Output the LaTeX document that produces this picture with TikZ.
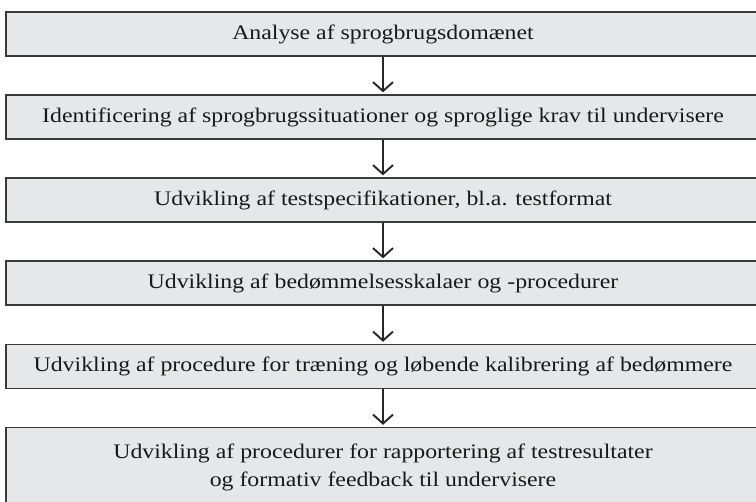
\documentclass[tikz,border=0pt]{standalone}
\usepackage{fontspec}
\setmainfont{Liberation Serif}[FakeStretch=1.15]
\usetikzlibrary{arrows.meta}
\definecolor{boxfill}{HTML}{E6E7E8}
\definecolor{boxline}{HTML}{3A3A3A}
\tikzset{
  stepbox/.style={draw=boxline, line width=1.3pt, fill=boxfill, minimum width=754pt, minimum height=44pt, inner sep=0pt, align=center, font=\fontsize{20.7}{28}\selectfont, text=black!90},
  flow/.style={draw=black!85, line width=1.9pt, shorten >=2pt, -{Straight Barb[length=9pt, width=20pt, line width=1.9pt]}}
}
\begin{document}
\begin{tikzpicture}[x=1pt,y=1pt]
\useasboundingbox (0,0) rectangle (756,502);
\clip (0,0) rectangle (756,502);
\node[stepbox] (b1) at (383,468) {Analyse af sprogbrugsdomænet};
\node[stepbox] (b2) at (383,385) {Identificering af sprogbrugssituationer og sproglige krav til undervisere};
\node[stepbox] (b3) at (383,302) {Udvikling af testspecifikationer, bl.a. testformat};
\node[stepbox] (b4) at (383,219) {Udvikling af bedømmelsesskalaer og -procedurer};
\node[stepbox] (b5) at (383,135.5) {Udvikling af procedure for træning og løbende kalibrering af bedømmere};
\node[stepbox, minimum height=80pt] (b6) at (383,34.5) {Udvikling af procedurer for rapportering af testresultater\\og formativ feedback til undervisere};
\draw[flow] (b1) -- (b2);
\draw[flow] (b2) -- (b3);
\draw[flow] (b3) -- (b4);
\draw[flow] (b4) -- (b5);
\draw[flow] (b5) -- (b6);
\end{tikzpicture}
\end{document}
